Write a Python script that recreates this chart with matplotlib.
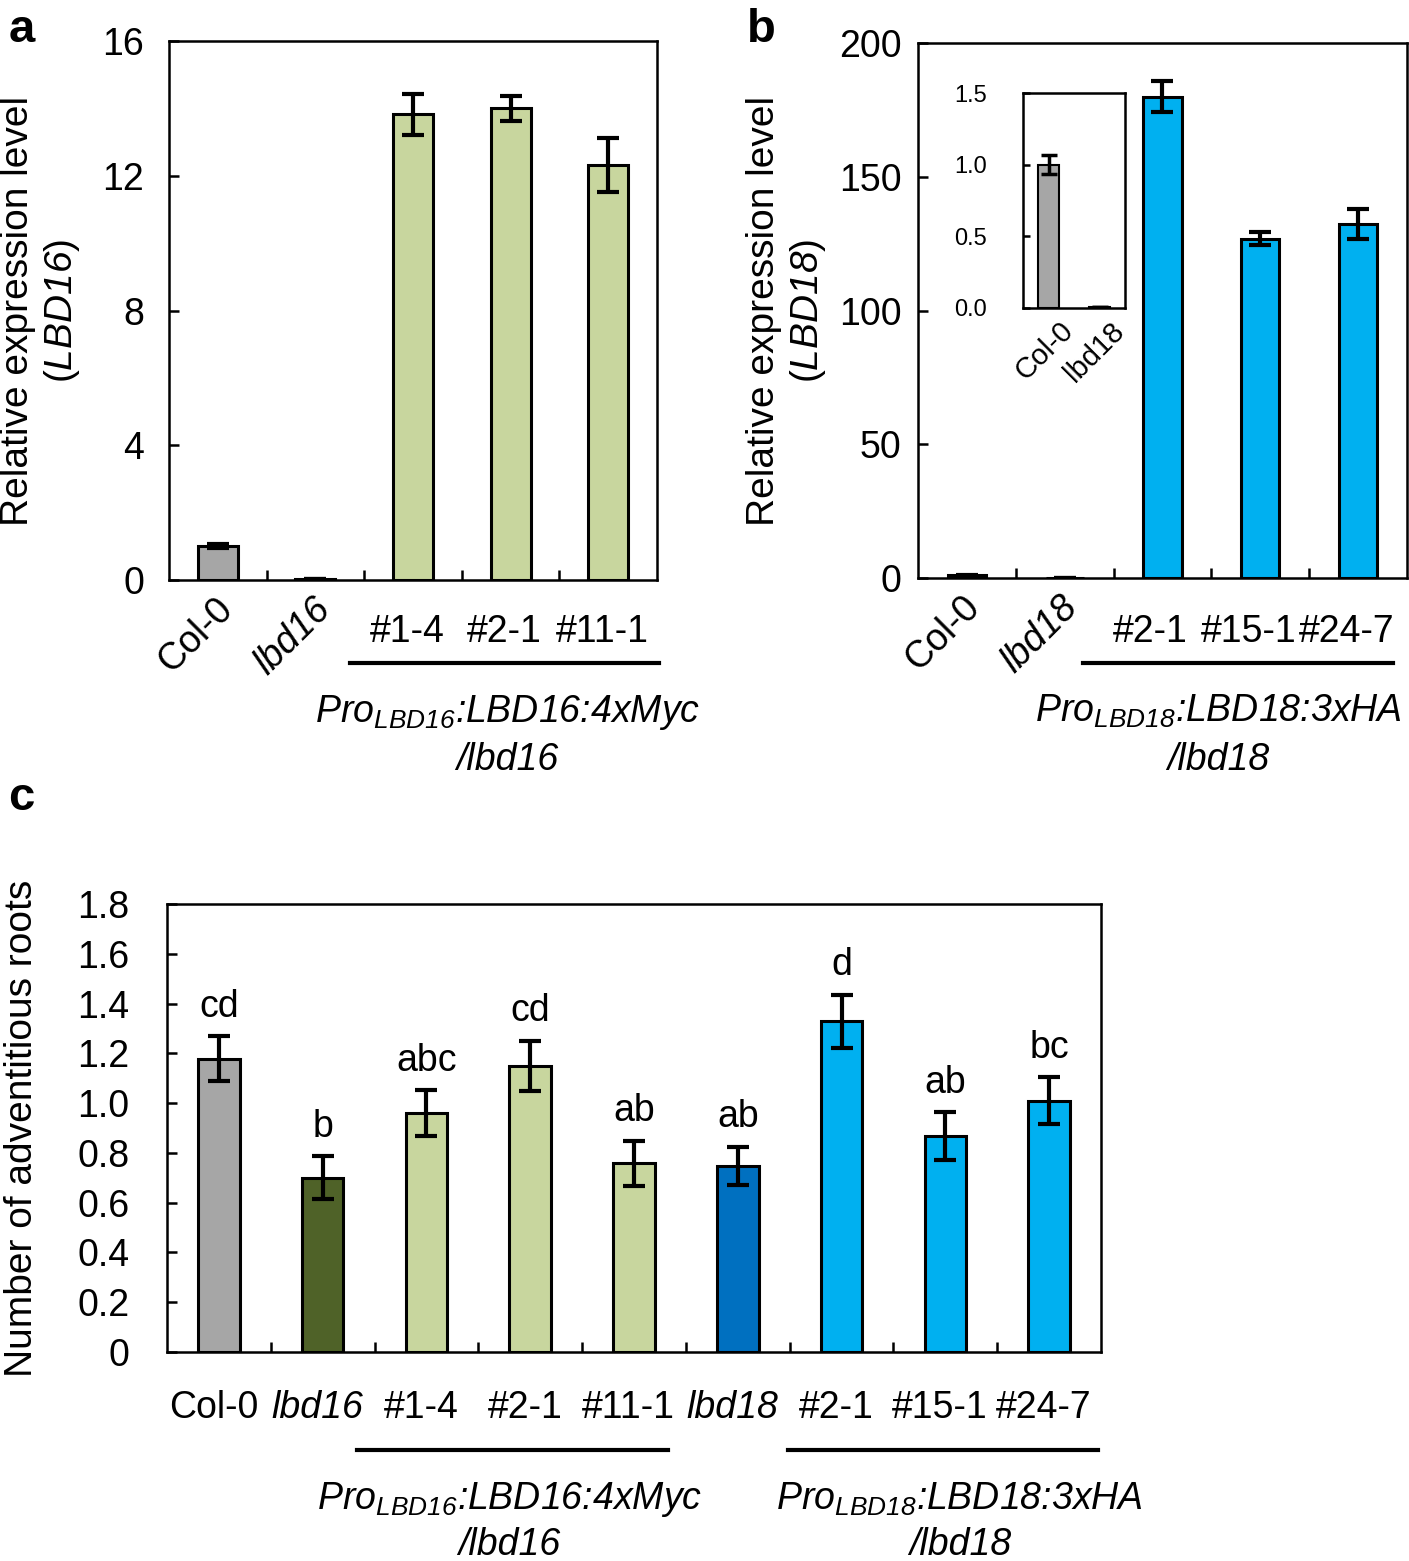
import numpy as np
import matplotlib
matplotlib.use("Agg")
import matplotlib.pyplot as plt

plt.rcParams['font.family'] = ['Liberation Sans', 'DejaVu Sans']
plt.rcParams['mathtext.fontset'] = 'custom'
plt.rcParams['mathtext.rm'] = 'Liberation Sans'
plt.rcParams['mathtext.it'] = 'Liberation Sans:italic'
plt.rcParams['mathtext.sf'] = 'Liberation Sans:italic'
plt.rcParams['mathtext.bf'] = 'Liberation Sans:bold'

# data
a_labels = ['Col-0', 'lbd16', '#1-4', '#2-1', '#11-1']
a_vals = [1.0, 0.02, 13.82, 14.0, 12.32]
a_err = [0.06, 0.0, 0.62, 0.37, 0.81]

b_labels = ['Col-0', 'lbd18', '#2-1', '#15-1', '#24-7']
b_vals = [1.0, 0.01, 180.0, 126.9, 132.3]
b_err = [0.3, 0.0, 5.7, 2.3, 5.6]

inset_labels = ['Col-0', 'lbd18']
inset_vals = [1.0, 0.005]
inset_err = [0.065, 0.0]

c_labels = ['Col-0', 'lbd16', '#1-4', '#2-1', '#11-1', 'lbd18', '#2-1', '#15-1', '#24-7']
c_vals = [1.178, 0.70, 0.96, 1.15, 0.758, 0.748, 1.328, 0.868, 1.009]
c_err = [0.09, 0.087, 0.092, 0.10, 0.09, 0.076, 0.107, 0.095, 0.095]
c_letters = ['cd', 'b', 'abc', 'cd', 'ab', 'ab', 'd', 'ab', 'bc']

gray = '#a6a6a6'
dkgreen = '#4f6228'
ltgreen = '#c8d69e'
dkblue = '#0070c0'
ltblue = '#00b0f0'

a_colors = [gray, gray, ltgreen, ltgreen, ltgreen]
b_colors = [gray, gray, ltblue, ltblue, ltblue]
c_colors = [gray, dkgreen, ltgreen, ltgreen, ltgreen, dkblue, ltblue, ltblue, ltblue]

FS = 27
err_kw = dict(ecolor='black', elinewidth=3, capsize=8, capthick=3)

fig = plt.figure(figsize=(14.09, 15.61), dpi=100)


def style_axes(ax, n, ypad):
    for s in ax.spines.values():
        s.set_linewidth(1.8)
    ax.set_xlim(-0.5, n - 0.5)
    ax.set_xticks(np.arange(0.5, n - 1))
    ax.set_xticklabels([])
    ax.tick_params(axis='x', direction='in', length=7, width=1.8)
    ax.tick_params(axis='y', direction='in', length=7, width=1.8, labelsize=FS, pad=ypad)


def bar_labels(ax, labels, rotated, ytext, xshift=0.0, rshift=0.0):
    tr = ax.get_xaxis_transform()
    for i, lab in enumerate(labels):
        italic = lab.startswith('lbd')
        if i in rotated:
            ax.text(i + rshift, -0.02, lab, transform=tr, rotation=45, rotation_mode='anchor',
                    ha='right', va='top', fontsize=FS, style='italic' if italic else 'normal')
        else:
            ax.text(i + xshift, ytext, lab, transform=tr, ha='center', va='center',
                    fontsize=FS, style='italic' if italic else 'normal')


def group(ax, x0, x1, yline, xt, y1, y2, line1, line2):
    tr = ax.get_xaxis_transform()
    ax.plot([x0, x1], [yline, yline], color='black', lw=3, transform=tr, clip_on=False)
    ax.text(xt, y1, line1, transform=tr, ha='center', va='center', fontsize=FS, style='italic')
    ax.text(xt, y2, line2, transform=tr, ha='center', va='center', fontsize=FS, style='italic')


# panel a
axa = fig.add_axes([0.1199, 0.6284, 0.3464, 0.3453])
xa = np.arange(len(a_vals))
axa.bar(xa, a_vals, width=0.41, color=a_colors, edgecolor='black', linewidth=2.2,
        yerr=a_err, error_kw=err_kw)
axa.set_ylim(0, 16)
axa.set_yticks([0, 4, 8, 12, 16])
style_axes(axa, 5, 18)
axa.set_ylabel('Relative expression level\n($\\mathsf{LBD16}$)', fontsize=28)
axa.yaxis.set_label_coords(-0.178, 0.5)
bar_labels(axa, a_labels, rotated=[0, 1], ytext=-0.0965, xshift=-0.06, rshift=-0.03)
group(axa, 1.35, 4.52, -0.154, 2.97, -0.245, -0.334,
      'Pro$_{\\mathsf{LBD16}}$:LBD16:4xMyc', '/lbd16')

# panel b
axb = fig.add_axes([0.6515, 0.6297, 0.3471, 0.3427])
xb = np.arange(len(b_vals))
axb.bar(xb, b_vals, width=0.39, color=b_colors, edgecolor='black', linewidth=2.2,
        yerr=b_err, error_kw=err_kw)
axb.set_ylim(0, 200)
axb.set_yticks([0, 50, 100, 150, 200])
style_axes(axb, 5, 12)
axb.set_ylabel('Relative expression level\n($\\mathsf{LBD18}$)', fontsize=28)
axb.yaxis.set_label_coords(-0.184, 0.5)
bar_labels(axb, b_labels, rotated=[0, 1], ytext=-0.1, xshift=-0.12, rshift=-0.05)
group(axb, 1.19, 4.36, -0.159, 2.57, -0.25, -0.34,
      'Pro$_{\\mathsf{LBD18}}$:LBD18:3xHA', '/lbd18')

# inset
axi = fig.add_axes([0.7261, 0.8027, 0.0724, 0.1377])
xi = np.arange(len(inset_vals))
axi.bar(xi, inset_vals, width=0.42, color=gray, edgecolor='black', linewidth=1.5,
        yerr=inset_err, error_kw=dict(ecolor='black', elinewidth=2.5, capsize=6, capthick=2.5))
axi.set_ylim(0, 1.5)
axi.set_xlim(-0.5, 1.5)
axi.set_yticks([0, 0.5, 1.0, 1.5])
axi.set_yticklabels(['0.0', '0.5', '1.0', '1.5'])
axi.set_xticks([])
for s in axi.spines.values():
    s.set_linewidth(1.8)
axi.tick_params(axis='y', direction='in', length=5, width=1.8, labelsize=17, pad=26)
tri = axi.get_xaxis_transform()
for i, lab in enumerate(inset_labels):
    axi.text(i + 0.2, -0.04, lab, transform=tri, rotation=45, rotation_mode='anchor',
             ha='right', va='top', fontsize=21)

# panel c
axc = fig.add_axes([0.1185, 0.1339, 0.6629, 0.2870])
xc = np.arange(len(c_vals))
axc.bar(xc, c_vals, width=0.40, color=c_colors, edgecolor='black', linewidth=2.2,
        yerr=c_err, error_kw=err_kw)
axc.set_ylim(0, 1.8)
axc.set_yticks(np.arange(0, 1.81, 0.2))
axc.set_yticklabels(['0', '0.2', '0.4', '0.6', '0.8', '1.0', '1.2', '1.4', '1.6', '1.8'])
style_axes(axc, 9, 27)
axc.set_ylabel('Number of adventitious roots', fontsize=28)
axc.yaxis.set_label_coords(-0.136, 0.5)
for i in range(len(c_vals)):
    axc.annotate(c_letters[i], (xc[i], c_vals[i] + c_err[i]), xytext=(0, 14),
                 textcoords='offset points', ha='center', va='baseline', fontsize=FS)
bar_labels(axc, c_labels, rotated=[], ytext=-0.125, xshift=-0.05)
group(axc, 1.33, 4.33, -0.219, 2.80, -0.33, -0.43,
      'Pro$_{\\mathsf{LBD16}}$:LBD16:4xMyc', '/lbd16')
group(axc, 5.48, 8.47, -0.219, 7.14, -0.33, -0.43,
      'Pro$_{\\mathsf{LBD18}}$:LBD18:3xHA', '/lbd18')

# panel letters
fig.text(0.006, 0.995, 'a', fontsize=34, fontweight='bold', va='top')
fig.text(0.530, 0.995, 'b', fontsize=34, fontweight='bold', va='top')
fig.text(0.006, 0.503, 'c', fontsize=34, fontweight='bold', va='top')

fig.savefig('out.png', dpi=100)
